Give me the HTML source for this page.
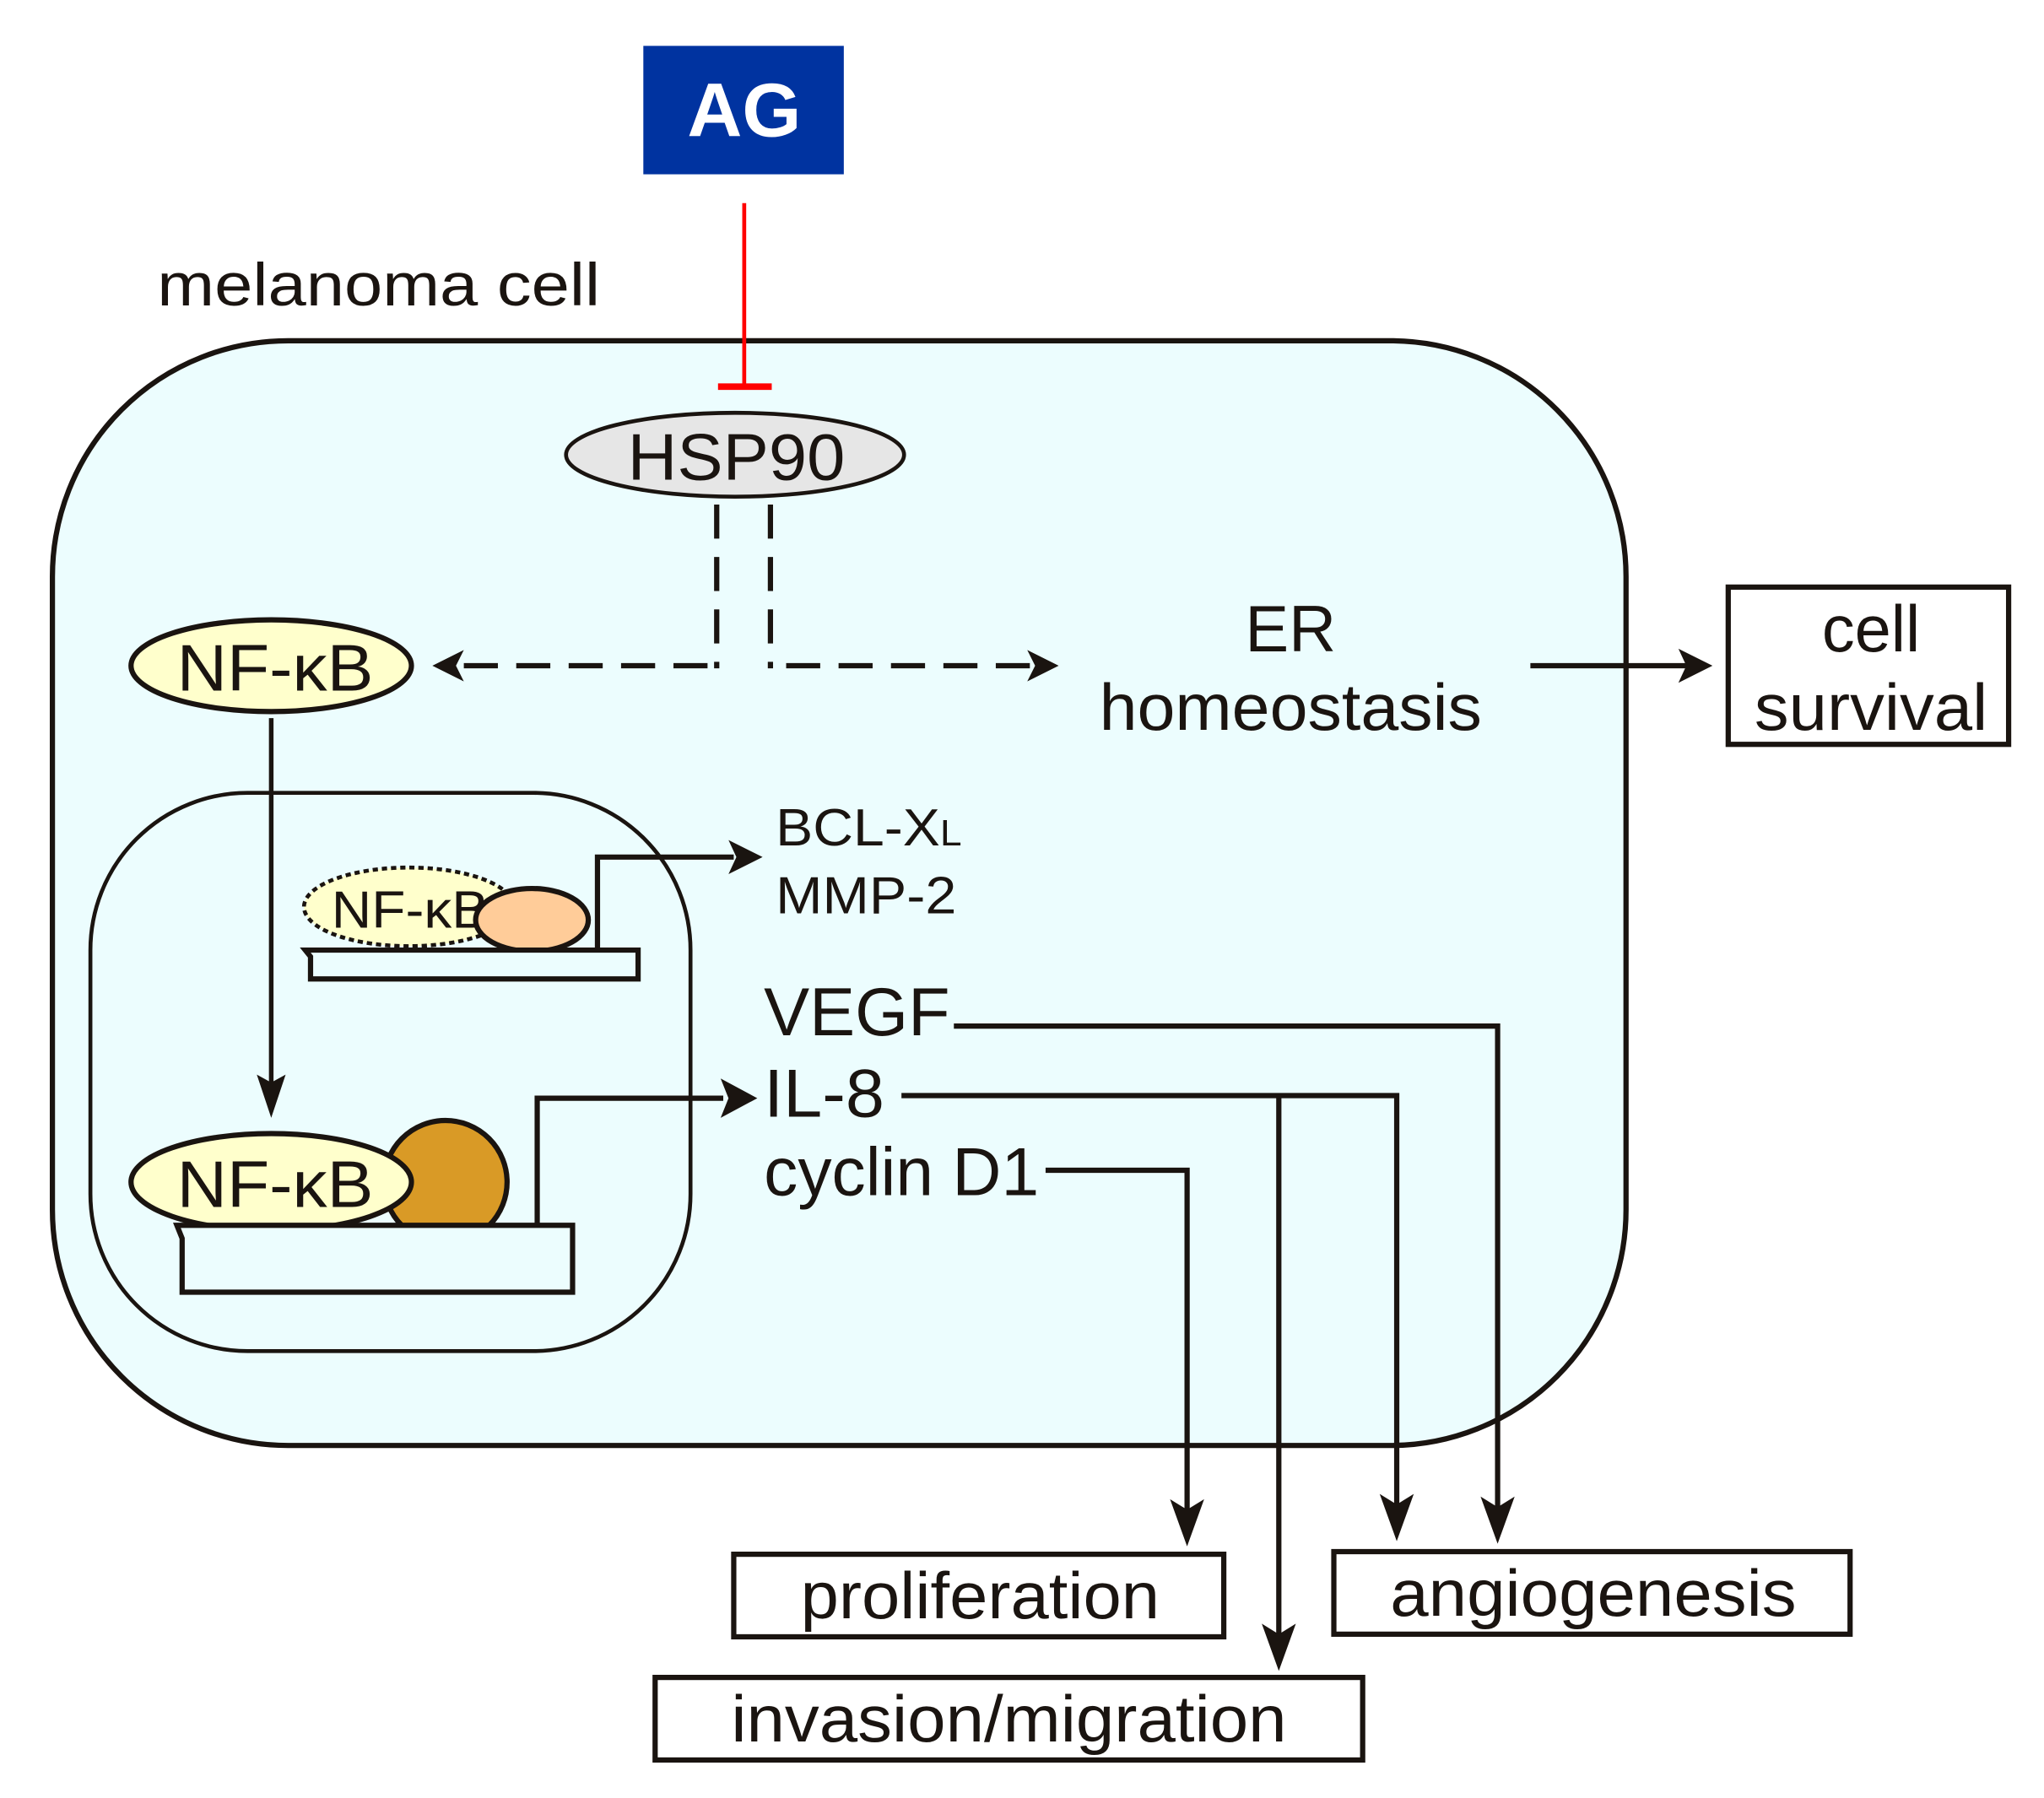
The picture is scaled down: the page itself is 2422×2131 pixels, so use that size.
<!DOCTYPE html>
<html><head><meta charset="utf-8"><style>html,body{margin:0;padding:0;background:#fff}svg{display:block}</style></head>
<body>
<svg width="2422" height="2131" viewBox="0 0 1560 1372" preserveAspectRatio="none" xmlns="http://www.w3.org/2000/svg" font-family="Liberation Sans, Arial, sans-serif">
<rect width="1560" height="1372" fill="#fff"/>
<rect x="491" y="35" width="153" height="98" fill="#0033a0"/>
<text x="568" y="104" text-anchor="middle" font-size="58" font-weight="bold" fill="#fff">AG</text>
<text x="120" y="233" font-size="46" fill="#1a1410" textLength="338" lengthAdjust="spacingAndGlyphs">melanoma cell</text>
<rect x="40" y="260" width="1201" height="843" rx="180" ry="180" fill="#ecfdfe" stroke="#1a1410" stroke-width="4"/>
<line x1="568" y1="155" x2="568" y2="295" stroke="#f00" stroke-width="3"/>
<line x1="548" y1="295" x2="589" y2="295" stroke="#f00" stroke-width="5"/>
<ellipse cx="561" cy="347" rx="129" ry="32" fill="#e6e6e6" stroke="#1a1410" stroke-width="3"/>
<text x="562" y="366" text-anchor="middle" font-size="50" fill="#1a1410" textLength="166" lengthAdjust="spacingAndGlyphs">HSP90</text>
<g stroke="#1a1410" stroke-width="4" fill="none" stroke-dasharray="26,14">
<line x1="547" y1="385" x2="547" y2="510"/>
<line x1="588" y1="385" x2="588" y2="510"/>
<line x1="540" y1="508" x2="345" y2="508"/>
<line x1="600" y1="508" x2="790" y2="508"/>
</g>
<path d="M330,508 L354,496 L348,508 L354,520 Z" fill="#1a1410"/>
<path d="M808,508 L784,496 L790,508 L784,520 Z" fill="#1a1410"/>
<ellipse cx="207" cy="508" rx="107" ry="35" fill="#ffffcc" stroke="#1a1410" stroke-width="4"/>
<text x="210" y="527" text-anchor="middle" font-size="50" fill="#1a1410" textLength="150" lengthAdjust="spacingAndGlyphs">NF-κB</text>
<text x="985" y="497" text-anchor="middle" font-size="50" fill="#1a1410">ER</text>
<text x="985" y="557" text-anchor="middle" font-size="50" fill="#1a1410" textLength="292" lengthAdjust="spacingAndGlyphs">homeostasis</text>
<line x1="1168" y1="508" x2="1290" y2="508" stroke="#1a1410" stroke-width="4"/>
<path d="M1307,508 L1281,495 L1287,508 L1281,521 Z" fill="#1a1410"/>
<rect x="1319" y="448" width="214" height="120" fill="#fff" stroke="#1a1410" stroke-width="4"/>
<text x="1428" y="497" text-anchor="middle" font-size="50" fill="#1a1410">cell</text>
<text x="1428" y="557" text-anchor="middle" font-size="50" fill="#1a1410" textLength="178" lengthAdjust="spacingAndGlyphs">survival</text>
<rect x="69" y="605" width="458" height="426" rx="120" ry="120" fill="none" stroke="#1a1410" stroke-width="3"/>
<line x1="207" y1="548" x2="207" y2="835" stroke="#1a1410" stroke-width="3.5"/>
<path d="M207,853 L196,820 L207,826 L218,820 Z" fill="#1a1410"/>
<ellipse cx="312" cy="692" rx="80" ry="30" fill="#ffffcc" stroke="#1a1410" stroke-width="3" stroke-dasharray="4,3"/>
<text x="253" y="708" font-size="40" fill="#1a1410" textLength="120" lengthAdjust="spacingAndGlyphs">NF-κB</text>
<ellipse cx="406" cy="702" rx="43" ry="24" fill="#ffcc99" stroke="#1a1410" stroke-width="4"/>
<path d="M233,725 L487,725 L487,747 L237,747 L237,730 Z" fill="#ecfdfe" stroke="#1a1410" stroke-width="4"/>
<polyline points="456,724 456,654 560,654" fill="none" stroke="#1a1410" stroke-width="4"/>
<path d="M582,654 L556,641 L562,654 L556,667 Z" fill="#1a1410"/>
<text x="592" y="645" font-size="40" fill="#1a1410" textLength="142" lengthAdjust="spacingAndGlyphs">BCL-X<tspan font-size="28">L</tspan></text>
<text x="592" y="697" font-size="40" fill="#1a1410" textLength="138" lengthAdjust="spacingAndGlyphs">MMP-2</text>
<circle cx="340" cy="902" r="47" fill="#d99a26" stroke="#1a1410" stroke-width="4"/>
<ellipse cx="207" cy="902" rx="107" ry="37" fill="#ffffcc" stroke="#1a1410" stroke-width="4"/>
<text x="210" y="921" text-anchor="middle" font-size="50" fill="#1a1410" textLength="150" lengthAdjust="spacingAndGlyphs">NF-κB</text>
<path d="M135,935 L437,935 L437,986 L139,986 L139,945 Z" fill="#ecfdfe" stroke="#1a1410" stroke-width="4"/>
<polyline points="410,935 410,838 552,838" fill="none" stroke="#1a1410" stroke-width="4"/>
<path d="M578,838 L550,823 L556,838 L550,853 Z" fill="#1a1410"/>
<text x="583" y="790" font-size="52" fill="#1a1410" textLength="142" lengthAdjust="spacingAndGlyphs">VEGF</text>
<text x="583" y="852" font-size="52" fill="#1a1410" textLength="92" lengthAdjust="spacingAndGlyphs">IL-8</text>
<text x="583" y="912" font-size="52" fill="#1a1410" textLength="210" lengthAdjust="spacingAndGlyphs">cyclin D1</text>
<g fill="none" stroke="#1a1410" stroke-width="4">
<polyline points="728,783 1143,783 1143,1155"/>
<polyline points="688,836 1066,836 1066,1153"/>
<line x1="976" y1="836" x2="976" y2="1250"/>
<polyline points="798,893 906,893 906,1157"/>
</g>
<g fill="#1a1410">
<path d="M1143,1178 L1130,1142 L1143,1150 L1156,1142 Z"/>
<path d="M1066,1176 L1053,1140 L1066,1148 L1079,1140 Z"/>
<path d="M976,1275 L963,1239 L976,1247 L989,1239 Z"/>
<path d="M906,1180 L893,1144 L906,1152 L919,1144 Z"/>
</g>
<rect x="560" y="1186" width="374" height="63" fill="#fff" stroke="#1a1410" stroke-width="4"/>
<text x="748" y="1235" text-anchor="middle" font-size="50" fill="#1a1410" textLength="274" lengthAdjust="spacingAndGlyphs">proliferation</text>
<rect x="1018" y="1184" width="394" height="63" fill="#fff" stroke="#1a1410" stroke-width="4"/>
<text x="1216" y="1233" text-anchor="middle" font-size="50" fill="#1a1410" textLength="310" lengthAdjust="spacingAndGlyphs">angiogenesis</text>
<rect x="500" y="1280" width="540" height="63" fill="#fff" stroke="#1a1410" stroke-width="4"/>
<text x="770" y="1329" text-anchor="middle" font-size="50" fill="#1a1410" textLength="424" lengthAdjust="spacingAndGlyphs">invasion/migration</text>
</svg>
</body></html>
